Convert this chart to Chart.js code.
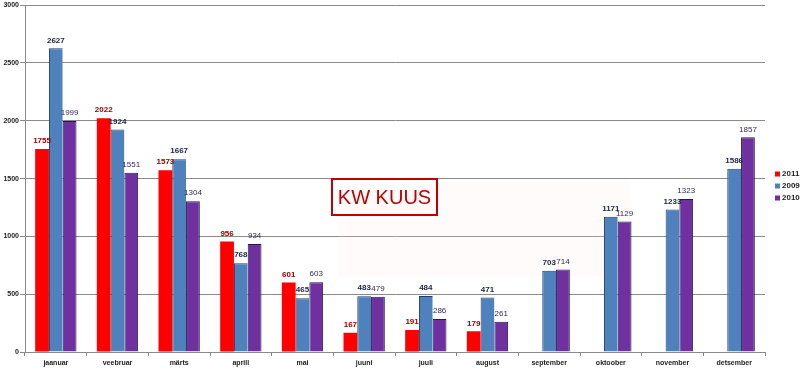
<!DOCTYPE html>
<html>
<head>
<meta charset="utf-8">
<script src="https://cdn.jsdelivr.net/npm/chart.js@4/dist/chart.umd.min.js"></script>
<style>
html,body{margin:0;padding:0;background:#fff;}
#c{display:block;}
</style>
</head>
<body>
<canvas id="c" width="800" height="373"></canvas>
<script>
const months = ["jaanuar","veebruar","märts","aprill","mai","juuni","juuli","august","september","oktoober","november","detsember"];
const series2011 = [1755,2022,1573,956,601,167,191,179,null,null,null,null];
const series2009 = [2627,1924,1667,768,465,483,484,471,703,1171,1233,1586];
const series2010 = [1999,1551,1304,934,603,479,286,261,714,1129,1323,1857];
const seriesNames = ["2011","2009","2010"];
const yTicks = [0,500,1000,1500,2000,2500,3000];
const titleText = "KW KUUS";

const labelStyles = [
  {font:"bold 8px 'Liberation Sans', Arial, sans-serif", color:"#a00000"},
  {font:"bold 8px 'Liberation Sans', Arial, sans-serif", color:"#1a2340"},
  {font:"8px 'Liberation Sans', Arial, sans-serif", color:"#2e2a55"}
];

const overlayPlugin = {
  id:'overlay',
  beforeDatasetsDraw(chart){
    const ctx = chart.ctx;
    ctx.save();
    ctx.fillStyle = "rgba(255,235,235,0.18)";
    ctx.fillRect(338,182,292,94);
    ctx.restore();
  },
  afterDatasetsDraw(chart){
    const ctx = chart.ctx;
    ctx.save();
    chart.data.datasets.forEach((ds,i)=>{
      const meta = chart.getDatasetMeta(i);
      const st = labelStyles[i];
      ctx.font = st.font;
      ctx.fillStyle = st.color;
      ctx.textAlign = 'center';
      ctx.textBaseline = 'bottom';
      meta.data.forEach((bar,j)=>{
        const v = ds.data[j];
        if(v==null) return;
        ctx.fillText(String(v), bar.x, bar.y - 4);
      });
    });
    ctx.strokeStyle = "#c00000";
    ctx.lineWidth = 2;
    ctx.strokeRect(332,179,105,36);
    ctx.fillStyle = "#c00000";
    ctx.font = "20px 'Liberation Sans', Arial, sans-serif";
    ctx.textAlign = 'center';
    ctx.textBaseline = 'middle';
    ctx.fillText(titleText, 384.5, 198);
    ctx.font = "bold 8px 'Liberation Sans', Arial, sans-serif";
    ctx.textAlign = 'left';
    ctx.textBaseline = 'middle';
    chart.data.datasets.forEach((ds,i)=>{
      const y = 174 + i*12;
      ctx.fillStyle = ds.backgroundColor;
      ctx.fillRect(775, y-2.5, 5, 5);
      ctx.fillStyle = "#222";
      ctx.fillText(ds.label, 782, y);
    });
    ctx.restore();
  }
};

new Chart(document.getElementById('c'), {
  type:'bar',
  data:{
    labels: months,
    datasets:[
      {label:seriesNames[0], data:series2011, backgroundColor:"#ff0000", borderColor:"#e00000", borderWidth:0},
      {label:seriesNames[1], data:series2009, backgroundColor:"#4f81bd", borderColor:"#1f3f6a", borderWidth:{left:1,top:1,right:0,bottom:0}},
      {label:seriesNames[2], data:series2010, backgroundColor:"#7030a0", borderColor:"#1c1c50", borderWidth:{left:1,top:1,right:1,bottom:0}}
    ]
  },
  options:{
    responsive:false,
    animation:false,
    devicePixelRatio:1,
    layout:{padding:{left:0,top:5,right:35,bottom:0}},
    plugins:{legend:{display:false}, tooltip:{enabled:false}},
    datasets:{bar:{categoryPercentage:0.67, barPercentage:1.0}},
    scales:{
      x:{
        grid:{display:true, drawOnChartArea:false, drawTicks:true, tickLength:4, color:"#888", offset:true},
        border:{display:true, color:"#888", width:1},
        ticks:{font:{family:"'Liberation Sans', Arial, sans-serif", size:7, weight:'bold'}, color:"#222", padding:3, maxRotation:0, autoSkip:false},
        afterFit(scale){ scale.height = 21; }
      },
      y:{
        min:0, max:3000,
        afterBuildTicks(scale){ scale.ticks = yTicks.map(v=>({value:v})); },
        grid:{color:"#8a8a8a", lineWidth:1, tickLength:5, drawTicks:true},
        border:{display:true, color:"#888", width:1},
        ticks:{font:{family:"'Liberation Sans', Arial, sans-serif", size:7, weight:'bold'}, color:"#222", padding:1, callback:(v)=>String(v)},
        afterFit(scale){ scale.width = 25; }
      }
    }
  },
  plugins:[overlayPlugin]
});
</script>
</body>
</html>
